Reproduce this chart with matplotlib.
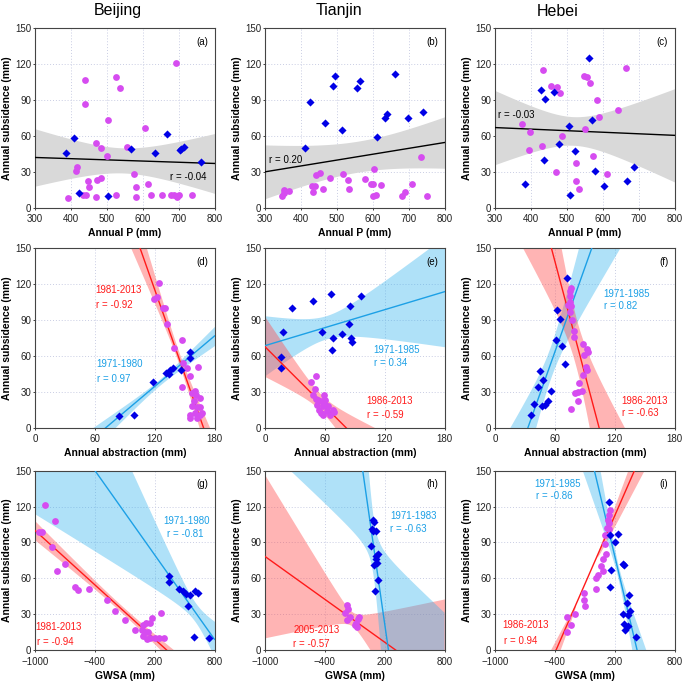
import numpy as np
import matplotlib
matplotlib.use('Agg')
import matplotlib.pyplot as plt

plt.rcParams['font.family'] = ['Liberation Sans', 'DejaVu Sans']

MAG = '#D64CF0'
BLU = '#0000E6'
RED = '#FF1A1A'
SKY = '#1CA0E6'

# ---- row 1: subsidence vs annual P ----
a_mag_x = [693, 440, 527, 537, 439, 503, 607, 556, 470, 483, 501, 418, 414, 575, 448, 474, 483,
           451, 614, 582, 391, 435, 442, 471, 527, 580, 623, 653, 678, 687, 695, 700, 738]
a_mag_y = [121, 107, 109, 100, 87, 73, 67, 51, 54, 50, 43, 34, 31, 28, 22, 23, 25,
           17, 20, 17, 8, 11, 11, 9, 11, 9, 11, 11, 11, 11, 9, 11, 11]
a_blu_x = [385, 408, 423, 502, 568, 635, 667, 704, 707, 716, 763]
a_blu_y = [46, 58, 12, 10, 49, 46, 62, 48, 49, 51, 38]

b_mag_x = [734, 603, 453, 441, 481, 516, 530, 579, 594, 602, 623, 709, 535, 461, 430, 433, 438,
           352, 368, 347, 354, 609, 602, 689, 681, 751]
b_mag_y = [42, 32, 29, 27, 25, 28, 23, 24, 20, 20, 19, 20, 16, 16, 18, 13, 18,
           15, 14, 10, 12, 11, 10, 13, 10, 10]
b_blu_x = [411, 424, 468, 514, 496, 490, 556, 565, 661, 611, 635, 641, 697, 739]
b_blu_y = [50, 88, 71, 65, 110, 102, 100, 106, 112, 59, 75, 78, 75, 80]

c_mag_x = [435, 455, 474, 481, 548, 556, 564, 585, 642, 664, 590, 551, 374, 398, 486, 396, 430,
           572, 527, 470, 611, 526, 535]
c_mag_y = [115, 102, 101, 96, 110, 109, 104, 90, 82, 117, 76, 66, 70, 63, 60, 48, 52,
           43, 37, 30, 28, 22, 16]
c_blu_x = [562, 429, 440, 463, 384, 437, 479, 506, 523, 571, 509, 579, 603, 668, 686]
c_blu_y = [125, 98, 91, 97, 20, 40, 53, 68, 47, 73, 11, 31, 18, 22, 34]

# ---- row 2: subsidence vs annual abstraction ----
d_mag_x = [124.5, 119.4, 122, 128, 130, 132.8, 147, 139.5, 148.5, 152, 163.6, 155, 147.5, 160,
           161, 165.6, 157, 162, 165.6, 155.5, 160, 165, 167, 155.5, 162, 159, 157]
d_mag_y = [121, 108, 109, 100, 100, 87, 73, 67, 54, 50, 51, 43, 34, 31,
           27, 25, 18, 17, 17, 11, 12, 11, 12, 8, 8, 22, 29]
d_blu_x = [84.3, 99.7, 118, 131, 134, 135.5, 138.8, 146, 155.5, 155.5]
d_blu_y = [10, 11, 38, 46, 45, 48, 50, 48, 63, 58]

e_mag_x = [51, 45.7, 50, 48, 51, 59, 60, 56.7, 52.3, 54.3, 55.7, 58.3, 61.7, 63.3, 68.3, 69, 65,
           57.7, 60, 53.3]
e_mag_y = [43, 38, 32, 27, 24, 27, 23, 22, 19, 15, 12, 11, 14, 18, 15, 13, 11,
           18, 19, 23]
e_blu_x = [16, 16, 17.7, 27.3, 47.7, 66, 57.3, 67.7, 66.7, 77.3, 84.3, 85, 96.7, 86.7, 87]
e_blu_y = [50, 59, 80, 100, 106, 112, 80, 75, 65, 78, 87, 102, 110, 75, 72]

f_mag_x = [76, 75.4, 75.7, 75, 73.4, 76, 75, 76.8, 78.8, 79, 88.5, 92, 93, 89.6, 91, 92, 88.5,
           84, 87.5, 83.5, 80, 83.5, 76]
f_mag_y = [117, 114, 110, 105, 103, 102, 97, 90, 81, 76, 70, 66, 63, 61, 51, 48, 44,
           37, 31, 30, 29, 22, 16]
f_blu_x = [72.7, 62, 65, 61, 67.3, 70, 45, 48, 43, 56, 39, 36, 50, 53, 47]
f_blu_y = [125, 98, 91, 73, 68, 53, 47, 40, 34, 31, 20, 11, 19, 22, 18]

# ---- row 3: subsidence vs GWSA ----
g_mag_x = [-900, -799, -957, -926, -826, -776, -699, -599, -565, -455, -281, -197, -97, 4, 87,
           114, 154, 171, 264, 87, 121, 154, 204, 248, 295, 104, 137, 70]
g_mag_y = [121, 108, 99, 99, 86, 66, 72, 53, 50, 51, 42, 33, 25, 17, 21,
           23, 23, 27, 31, 12, 9, 10, 10, 10, 10, 15, 15, 17]
g_blu_x = [348, 348, 445, 482, 516, 556, 539, 606, 639, 599, 740]
g_blu_y = [62, 57, 51, 49, 47, 46, 37, 49, 48, 11, 10]

h_mag_x = [-180, -197, -164, -174, -147, -63, -97, -53, -80, -87]
h_mag_y = [38, 31, 34, 25, 28, 26, 21, 28, 19, 23]
h_blu_x = [87, 94, 71, 111, 61, 111, 131, 94, 121, 111, 131, 104, 87]
h_blu_y = [109, 107, 101, 100, 87, 79, 80, 71, 73, 76, 59, 49, 100]

i_mag_x = [154, 141, 131, 148, 124, 148, 104, 104, 114, 81, 64, 81, 30, 14, 14, -103, -110,
           -97, -194, -281, -237, -277]
i_mag_y = [117, 113, 109, 106, 102, 101, 96, 89, 80, 76, 70, 66, 63, 60, 51, 48, 42,
           37, 30, 28, 21, 15]
i_blu_x = [148, 231, 204, 164, 158, 281, 291, 348, 325, 358, 281, 331, 298, 331, 304, 415, 158]
i_blu_y = [124, 97, 90, 67, 53, 72, 71, 46, 39, 33, 30, 29, 22, 20, 17, 11, 96]

# regression lines: two points on each line, band half widths at three x
fits = {
    'a': [([300, 800], [42, 37], [300, 540, 800], [24, 10.5, 25], 'k')],
    'b': [([300, 800], [30, 54.5], [300, 545, 800], [22.5, 13, 21.5], 'k')],
    'c': [([300, 800], [67, 60.5], [300, 525, 800], [31, 12, 39], 'k')],
    'd': [([105.4, 169], [150, 0], [105, 145, 169], [18, 5, 12], 'r'),
          ([71, 180], [0, 76.7], [68, 135, 180], [8, 3, 8], 's')],
    'e': [([0, 180], [68.6, 113.7], [0, 55, 180], [25, 10, 46], 's'),
          ([0, 81.3], [67.7, 0], [0, 58, 110], [25, 7, 24], 'r')],
    'f': [([33, 97], [0, 150], [15.5, 60, 126], [41, 14, 67.6], 's'),
          ([56.6, 104.4], [150, 0], [28, 82, 130.6], [89.5, 20.6, 81.5], 'r')],
    'g': [([-1000, 321], [100, 0], [-1000, -200, 320], [8, 3, 5], 'r'),
          ([-398, 800], [150, 9], [-1000, 550, 800], [107, 9, 15], 's')],
    'h': [([-1000, 311], [78.3, 0], [-1000, -130, 800], [68, 6, 72], 'r'),
          ([-20, 238], [150, 0], [-750, 100, 800], [424, 25, 358], 's')],
    'i': [([-388, 398], [0, 150], [-388, 80, 398], [9, 4, 15], 'r'),
          ([-3, 425], [150, 0], [-3, 250, 425], [28, 6, 22], 's')],
}

labels = {
    'a': [(676, 26, 'r = -0.04', 'k')],
    'b': [(312, 40, 'r = 0.20', 'k')],
    'c': [(309, 77.5, 'r = -0.03', 'k')],
    'd': [(60, 115, '1981-2013', RED), (61, 103, 'r = -0.92', RED),
          (61, 53, '1971-1980', SKY), (62, 41, 'r = 0.97', SKY)],
    'e': [(109, 65, '1971-1985', SKY), (109, 54, 'r = 0.34', SKY),
          (102, 22, '1986-2013', RED), (102, 10.5, 'r = -0.59', RED)],
    'f': [(109, 112, '1971-1985', SKY), (109, 102, 'r = 0.82', SKY),
          (127, 22, '1986-2013', RED), (127, 12, 'r = -0.63', RED)],
    'g': [(290, 108, '1971-1980', SKY), (321, 97, 'r = -0.81', SKY),
          (-993, 19, '1981-2013', RED), (-975, 7, 'r = -0.94', RED)],
    'h': [(255, 112, '1971-1983', SKY), (255, 101, 'r = -0.63', SKY),
          (-716, 17, '2005-2013', RED), (-716, 5.5, 'r = -0.57', RED)],
    'i': [(-605, 139, '1971-1985', SKY), (-590, 129, 'r = -0.86', SKY),
          (-923, 21, '1986-2013', RED), (-905, 7.5, 'r = 0.94', RED)],
}

points = {
    'a': (a_mag_x, a_mag_y, a_blu_x, a_blu_y), 'b': (b_mag_x, b_mag_y, b_blu_x, b_blu_y),
    'c': (c_mag_x, c_mag_y, c_blu_x, c_blu_y), 'd': (d_mag_x, d_mag_y, d_blu_x, d_blu_y),
    'e': (e_mag_x, e_mag_y, e_blu_x, e_blu_y), 'f': (f_mag_x, f_mag_y, f_blu_x, f_blu_y),
    'g': (g_mag_x, g_mag_y, g_blu_x, g_blu_y), 'h': (h_mag_x, h_mag_y, h_blu_x, h_blu_y),
    'i': (i_mag_x, i_mag_y, i_blu_x, i_blu_y),
}

row_x = [((300, 800), range(300, 801, 100), 'Annual P (mm)'),
         ((0, 180), [0, 60, 120, 180], 'Annual abstraction (mm)'),
         ((-1000, 800), [-1000, -400, 200, 800], 'GWSA (mm)')]

W, H = 685, 683
fig = plt.figure(figsize=(W / 100, H / 100), dpi=100)

lefts = [35, 265, 495]
tops = [28.3, 248.3, 470.7]
aw, ah = 179.5, 179.4

for name, xc in zip(['Beijing', 'Tianjin', 'Hebei'], [118, 339, 558]):
    fig.text(xc / W, 1 - 11 / H, name, ha='center', va='center', fontsize=11.5)

letters = 'abcdefghi'
for k, let in enumerate(letters):
    r, c = divmod(k, 3)
    ax = fig.add_axes([lefts[c] / W, 1 - (tops[r] + ah) / H, aw / W, ah / H])
    xlim, xt, xlab = row_x[r]
    ax.set_xlim(xlim)
    ax.set_ylim(0, 150)
    ax.set_xticks(list(xt))
    ax.set_yticks(range(0, 151, 30))
    ax.set_axisbelow(True)
    ax.grid(True, color='#C9CDE3', linestyle=(0, (1, 2)), linewidth=0.7)
    ax.tick_params(labelsize=7, length=1.5, width=0.6, colors='#222222')
    ax.tick_params(axis='x', pad=3.2)
    ax.tick_params(axis='y', pad=1.2)
    for sp in ax.spines.values():
        sp.set_color('#444444')
        sp.set_linewidth(0.8)
    ax.set_xlabel(xlab, fontsize=7.5, fontweight='bold', labelpad=3)
    ax.set_ylabel('Annual subsidence (mm)', fontsize=7.5, fontweight='bold', labelpad=2)

    xs = np.linspace(xlim[0], xlim[1], 400)
    for lx, ly, bx, bh, kind in fits[let]:
        slope = (ly[1] - ly[0]) / (lx[1] - lx[0])
        yl = ly[0] + slope * (xs - lx[0])
        coef = np.polyfit(bx, np.square(bh), 2)
        hw = np.sqrt(np.clip(np.polyval(coef, xs), 0, None))
        if kind == 'k':
            ax.fill_between(xs, yl - hw, yl + hw, color='#D9D9D9', lw=0, zorder=1)
            ax.plot(xs, yl, color='k', lw=1.0, zorder=3)
        elif kind == 'r':
            ax.fill_between(xs, yl - hw, yl + hw, color='#FF4D4D', alpha=0.42, lw=0, zorder=1)
            ax.plot(xs, yl, color=RED, lw=1.0, zorder=3)
        else:
            ax.fill_between(xs, yl - hw, yl + hw, color='#38B4EE', alpha=0.4, lw=0, zorder=1)
            ax.plot(xs, yl, color=SKY, lw=1.0, zorder=3)

    mx, my, bx_, by_ = points[let]
    ax.scatter(mx, my, s=24, marker='o', color=MAG, linewidths=0, zorder=4)
    ax.scatter(bx_, by_, s=17, marker='D', color=BLU, linewidths=0, zorder=5)

    for tx, ty, txt, col in labels[let]:
        ax.text(tx, ty, txt, color=col, fontsize=7, ha='left', va='center', zorder=6)
    ax.text(0.965, 0.925, '(%s)' % let, transform=ax.transAxes, fontsize=7,
            ha='right', va='center', zorder=6)

fig.savefig('out.png', dpi=100)
